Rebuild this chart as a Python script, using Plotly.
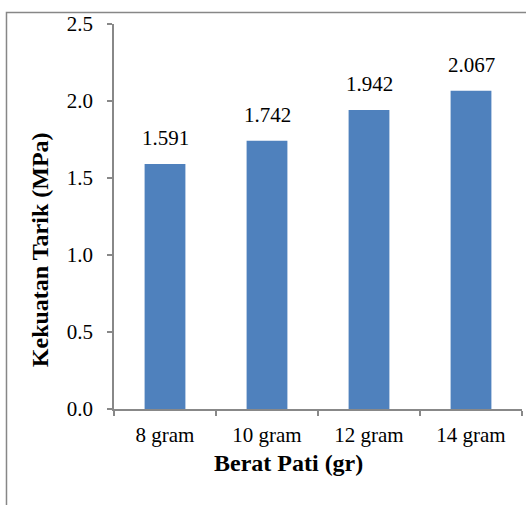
import plotly.graph_objects as go

categories = ["8 gram", "10 gram", "12 gram", "14 gram"]
values = [1.591, 1.742, 1.942, 2.067]
labels = ["1.591", "1.742", "1.942", "2.067"]
y_ticks = [0.0, 0.5, 1.0, 1.5, 2.0, 2.5]
x_title = "Berat Pati (gr)"
y_title = "Kekuatan Tarik (MPa)"

FONT = "Liberation Serif, Times New Roman, serif"
AXIS_COLOR = "#888888"
TICK_SIZE = 21
TITLE_SIZE = 24

fig = go.Figure(
    go.Bar(
        x=categories,
        y=values,
        marker=dict(color="#4f81bd", line=dict(width=0)),
        width=0.4,
        hovertext=labels,
    )
)

value_annotations = [
    dict(
        x=c,
        y=v,
        xref="x",
        yref="y",
        text=t,
        showarrow=False,
        xanchor="center",
        yanchor="bottom",
        yshift=12,
        font=dict(family=FONT, size=TICK_SIZE, color="black"),
    )
    for c, v, t in zip(categories, values, labels)
]

fig.update_layout(
    width=526,
    height=505,
    margin=dict(l=114, r=4, t=24, b=96),
    paper_bgcolor="white",
    plot_bgcolor="white",
    showlegend=False,
    font=dict(family=FONT, size=TICK_SIZE, color="black"),
    shapes=[
        dict(
            type="rect",
            xref="paper",
            yref="paper",
            x0=-0.2635,
            y0=-0.4,
            x1=1.2,
            y1=1.0299,
            line=dict(color="#878787", width=1.5),
            fillcolor="rgba(0,0,0,0)",
            layer="below",
        )
    ],
    annotations=value_annotations
    + [
        dict(
            text="<b>" + x_title + "</b>",
            xref="paper",
            yref="paper",
            x=0.4265,
            y=-0.140,
            xanchor="center",
            yanchor="middle",
            showarrow=False,
            font=dict(family=FONT, size=TITLE_SIZE, color="black"),
        ),
        dict(
            text="<b>" + y_title + "</b>",
            xref="paper",
            yref="paper",
            x=-0.181,
            y=0.413,
            xanchor="center",
            yanchor="middle",
            textangle=-90,
            showarrow=False,
            font=dict(family=FONT, size=TITLE_SIZE, color="black"),
        ),
    ],
)

fig.update_xaxes(
    showline=True,
    linecolor=AXIS_COLOR,
    linewidth=1.5,
    ticks="outside",
    tickson="boundaries",
    ticklen=5,
    tickcolor=AXIS_COLOR,
    tickwidth=1.5,
    showgrid=False,
    ticklabelstandoff=6,
    tickfont=dict(family=FONT, size=TICK_SIZE, color="black"),
)

fig.update_yaxes(
    range=[0, 2.5],
    tickvals=y_ticks,
    tickformat=".1f",
    showline=True,
    linecolor=AXIS_COLOR,
    linewidth=1.5,
    ticks="outside",
    ticklen=5,
    tickcolor=AXIS_COLOR,
    tickwidth=1.5,
    showgrid=False,
    zeroline=False,
    ticklabelstandoff=10,
    tickfont=dict(family=FONT, size=TICK_SIZE, color="black"),
)

fig.write_html("out.html")
